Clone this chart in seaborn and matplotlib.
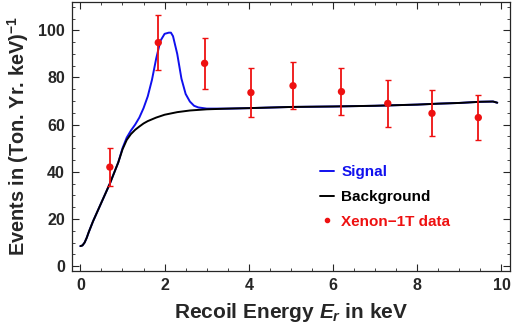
import numpy as np
import pandas as pd
import matplotlib
matplotlib.use("Agg")
import matplotlib.pyplot as plt
from matplotlib.lines import Line2D
from matplotlib.ticker import MultipleLocator
import seaborn as sns

# background curve
bkg_x = [0, 0.05, 0.1, 0.15, 0.2, 0.3, 0.4, 0.5, 0.6, 0.7, 0.8, 0.9, 1.0,
         1.1, 1.2, 1.3, 1.4, 1.5, 1.6, 1.8, 2.0, 2.3, 2.6, 3.0, 3.5, 4.0, 5.0,
         6.0, 7.0, 8.0, 8.5, 9.0, 9.5, 9.8, 9.9]
bkg_y = [8.5, 8.8, 10, 12, 14.5, 19, 23, 27, 31, 35, 39.5, 44, 49.5, 53.5, 56,
         57.8, 59.2, 60.5, 61.5, 63, 64.2, 65.3, 66, 66.5, 66.8, 67, 67.5, 67.7,
         68, 68.5, 68.9, 69.2, 69.7, 69.8, 69.3]

# signal curve (background plus the peak near 2 keV)
sig_x = [0, 0.05, 0.1, 0.15, 0.2, 0.3, 0.4, 0.5, 0.6, 0.7, 0.8, 0.9, 1.0,
         1.1, 1.2, 1.3, 1.4, 1.5, 1.6, 1.7, 1.8, 1.9, 2.0, 2.1, 2.15, 2.2, 2.3,
         2.4, 2.5, 2.6, 2.7, 2.8, 3.0, 3.5, 4.0, 5.0, 6.0, 7.0, 8.0, 8.5, 9.0,
         9.5, 9.8, 9.9]
sig_y = [8.5, 8.8, 10, 12, 14.5, 19, 23, 27, 31, 35, 39.5, 44, 50, 54.5, 57.5,
         60, 63, 67, 72, 79, 88, 95.5, 98.5, 99, 99, 97.5, 90, 79.5, 73, 69.8,
         68, 67.3, 66.8, 66.8, 67, 67.5, 67.7, 68, 68.5, 68.9, 69.2, 69.7,
         69.8, 69.3]

# Xenon-1T data points
data_x = [0.7, 1.85, 2.95, 4.05, 5.05, 6.2, 7.3, 8.35, 9.45]
data_y = [42, 94.8, 86, 73.6, 76.5, 74, 69, 64.8, 63]
data_err = [8, 11.7, 10.9, 10.4, 10, 10, 10, 9.8, 9.4]

sns.set_style("ticks")
plt.rcParams['font.family'] = ['Liberation Sans', 'DejaVu Sans']
plt.rcParams['mathtext.fontset'] = 'custom'
plt.rcParams['mathtext.bf'] = 'Liberation Sans:bold'
plt.rcParams['mathtext.it'] = 'Liberation Sans:bold:italic'
plt.rcParams['mathtext.rm'] = 'Liberation Sans:bold'

fig = plt.figure(figsize=(5.14, 3.34), dpi=100)
ax = fig.add_axes([0.140, 0.189, 0.852, 0.805])

sig = pd.DataFrame({"x": sig_x, "y": sig_y})
bkg = pd.DataFrame({"x": bkg_x, "y": bkg_y})
sns.lineplot(data=sig, x="x", y="y", ax=ax, color="#1010ee", lw=1.4)
sns.lineplot(data=bkg, x="x", y="y", ax=ax, color="black", lw=1.4)

ax.errorbar(data_x, data_y, yerr=data_err, fmt="none", ecolor="#ee1111",
            elinewidth=1.3, capsize=2.5, capthick=1.0)
sns.scatterplot(x=data_x, y=data_y, ax=ax, color="#ee1111", s=28,
                edgecolor="none", zorder=5)

ax.set_xlim(-0.2, 10.2)
ax.set_ylim(-2, 112)
ax.xaxis.set_major_locator(MultipleLocator(2))
ax.xaxis.set_minor_locator(MultipleLocator(0.5))
ax.yaxis.set_major_locator(MultipleLocator(20))
ax.yaxis.set_minor_locator(MultipleLocator(5))
ax.tick_params(which="both", direction="in", top=True, right=True,
               labeltop=False, labelright=False)
ax.tick_params(which="major", length=5, width=0.8, labelsize=11.5, pad=5)
ax.tick_params(which="minor", length=2.5, width=0.6)
for lab in ax.get_xticklabels() + ax.get_yticklabels():
    lab.set_fontweight("bold")
for sp in ax.spines.values():
    sp.set_linewidth(0.9)

ax.set_xlabel(r"Recoil Energy $E_r$ in keV", fontsize=15, fontweight="bold",
              labelpad=6)
ax.set_ylabel(r"Events in (Ton. Yr. keV)$^{-1}$", fontsize=14.3,
              fontweight="bold", labelpad=5)

handles = [
    Line2D([], [], color="#1010ee", lw=1.4),
    Line2D([], [], color="black", lw=1.4),
    Line2D([], [], color="#ee1111", marker="o", ls="none", markersize=3),
]
leg = ax.legend(handles, ["Signal", "Background", "Xenon\u22121T data"],
                loc="center left", bbox_to_anchor=(0.535, 0.275), frameon=False,
                handlelength=0.9, handletextpad=0.5, labelspacing=0.7,
                prop={"weight": "bold", "size": 11})
for txt, c in zip(leg.get_texts(), ["#1010ee", "black", "#ee1111"]):
    txt.set_color(c)

fig.savefig("out.png", dpi=100)
